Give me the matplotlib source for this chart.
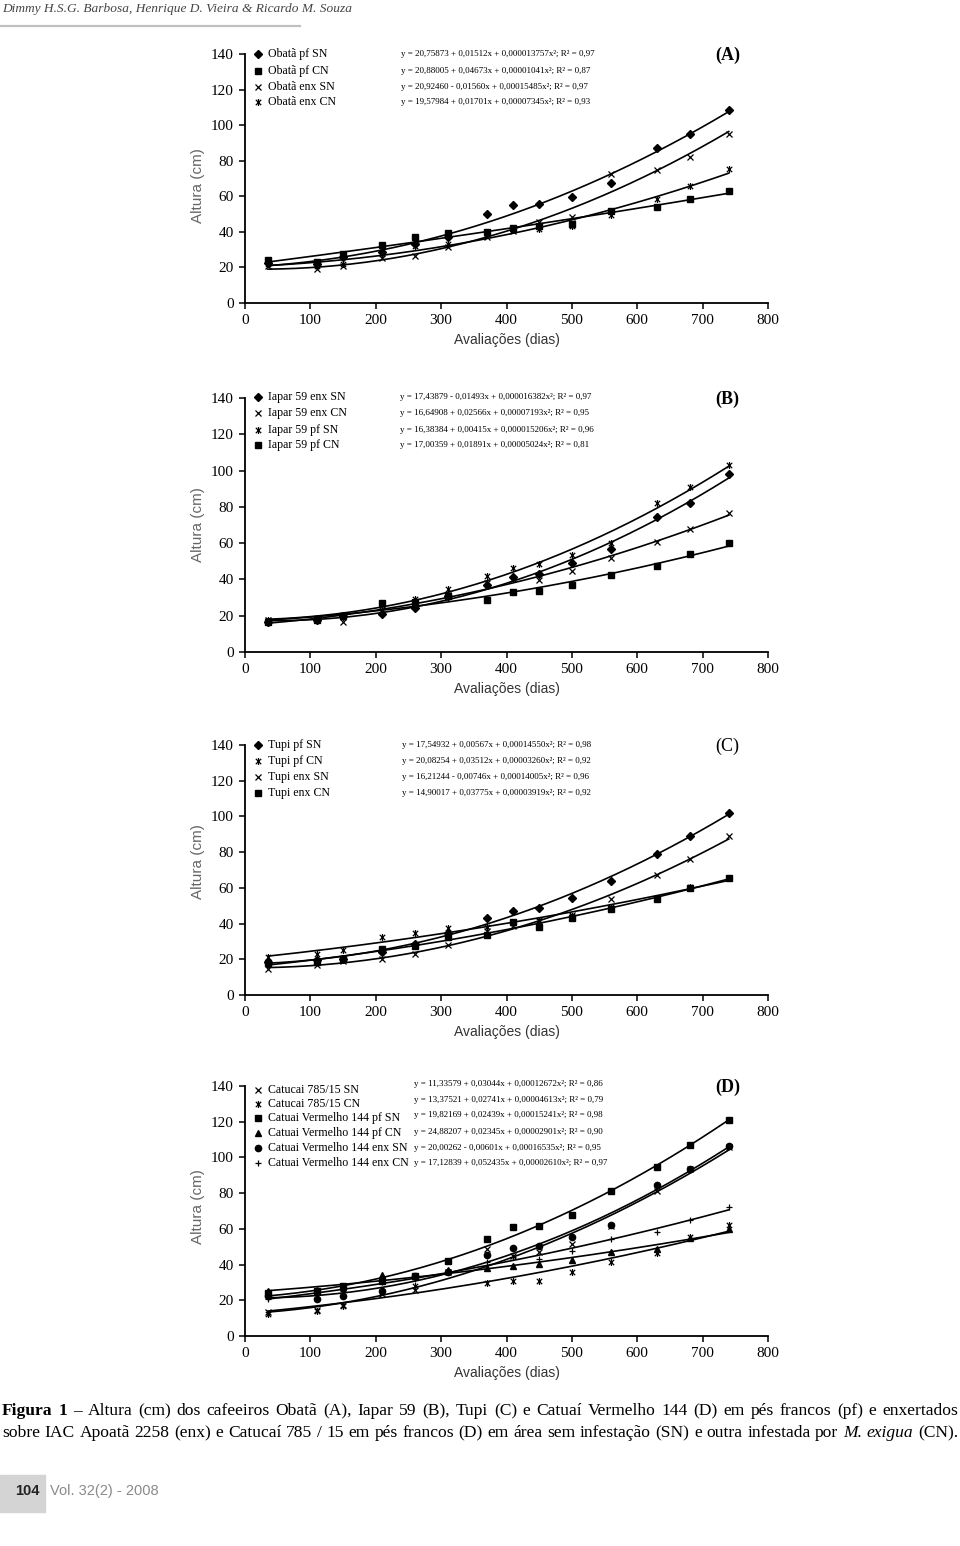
import numpy as np
import matplotlib
matplotlib.use("Agg")
from matplotlib import pyplot as plt
from matplotlib.path import Path
from matplotlib.lines import Line2D
from matplotlib.patches import Rectangle

# evaluation days (same for every panel)
dias = [35, 110, 150, 210, 260, 310, 370, 410, 450, 500, 560, 630, 680, 740]

# (A) Obata
obata_pf_sn = [22.5, 22.0, 25.7, 28.5, 33.2, 37.0, 49.9, 55.2, 55.7, 59.7, 67.5, 87.0, 95.0, 108.4]
obata_pf_cn = [24.2, 23.3, 27.6, 32.8, 37.0, 39.4, 40.2, 42.0, 43.5, 44.5, 51.6, 54.2, 58.3, 62.7]
obata_enx_sn = [20.6, 19.1, 20.6, 25.3, 26.6, 31.3, 37.0, 40.7, 45.4, 48.2, 72.6, 74.9, 82.0, 95.0]
obata_enx_cn = [22.0, 20.6, 22.0, 27.6, 32.3, 33.2, 38.8, 41.1, 41.7, 43.5, 49.7, 58.5, 65.9, 75.4]

# (B) Iapar 59
iapar_enx_sn = [16.8, 17.4, 19.6, 21.1, 24.2, 30.6, 37.0, 41.6, 43.0, 48.9, 56.6, 74.2, 81.9, 98.0]
iapar_enx_cn = [17.4, 18.1, 16.8, 23.3, 27.3, 31.5, 37.9, 40.1, 39.7, 44.9, 51.6, 60.4, 67.8, 76.4]
iapar_pf_sn = [17.8, 18.7, 20.5, 26.0, 29.1, 34.6, 41.9, 46.2, 48.5, 53.5, 59.9, 81.9, 91.0, 102.9]
iapar_pf_cn = [16.5, 17.4, 20.1, 26.9, 27.8, 30.6, 28.8, 32.8, 33.5, 37.0, 42.5, 47.6, 54.0, 59.9]

# (C) Tupi
tupi_pf_sn = [18.7, 19.6, 20.0, 24.3, 28.6, 34.6, 43.0, 47.1, 49.0, 54.2, 64.1, 78.9, 88.8, 102.2]
tupi_pf_cn = [21.5, 23.0, 25.2, 32.3, 34.6, 37.4, 37.9, 40.6, 42.0, 44.5, 49.5, 54.2, 60.4, 65.8]
tupi_enx_sn = [14.4, 16.8, 19.1, 20.0, 23.0, 28.0, 36.1, 38.7, 41.7, 44.9, 53.6, 67.3, 76.3, 88.8]
tupi_enx_cn = [17.8, 18.7, 20.0, 25.8, 27.5, 32.7, 33.6, 41.1, 38.3, 43.0, 48.0, 53.6, 59.8, 65.8]

# (D) Catucai / Catuai
catucai_sn = [13.2, 14.7, 17.4, 23.5, 25.9, 35.6, 48.7, 45.0, 46.8, 51.5, 61.8, 81.0, 93.5, 106.0]
catucai_cn = [12.3, 14.2, 16.6, 24.8, 28.2, 35.6, 29.7, 31.0, 31.0, 36.0, 41.2, 46.5, 55.2, 62.1]
catuai_pf_sn = [23.9, 25.4, 28.2, 31.0, 33.8, 41.8, 54.3, 60.8, 61.4, 67.7, 81.3, 94.8, 107.1, 121.1]
catuai_pf_cn = [25.4, 25.9, 27.2, 34.1, 33.8, 37.1, 37.9, 39.4, 40.3, 42.7, 46.8, 48.7, 54.7, 59.9]
catuai_enx_sn = [22.6, 20.7, 22.6, 25.4, 33.8, 35.6, 45.5, 49.1, 50.6, 55.6, 62.1, 84.5, 93.8, 106.5]
catuai_enx_cn = [20.7, 23.5, 25.4, 30.4, 31.9, 36.6, 41.2, 44.0, 43.1, 47.8, 54.3, 58.4, 65.1, 72.0]

# Excel "star" marker: an x with a vertical stroke
star = Path([(-1, -1), (1, 1), (-1, 1), (1, -1), (0, -1.3), (0, 1.3)],
            [Path.MOVETO, Path.LINETO] * 3)

MK = {
    'D': dict(marker='D', ms=3.8),
    's': dict(marker='s', ms=4.3),
    'x': dict(marker='x', ms=4.6, mew=0.9),
    '*': dict(marker=star, ms=5.0, mew=0.9),
    '^': dict(marker='^', ms=4.3),
    'o': dict(marker='o', ms=4.5),
    '+': dict(marker='+', ms=5.0, mew=0.9),
}

panels = [
    dict(tag='(A)', bold=True, bottom=303, top=54, ylab=186, eqx=238,
         series=[
             ('Obatã pf SN', 'D', obata_pf_sn, 'y = 20,75873 + 0,01512x + 0,000013757x²; R² = 0,97'),
             ('Obatã pf CN', 's', obata_pf_cn, 'y = 20,88005 + 0,04673x + 0,00001041x²; R² = 0,87'),
             ('Obatã enx SN', 'x', obata_enx_sn, 'y = 20,92460 - 0,01560x + 0,00015485x²; R² = 0,97'),
             ('Obatã enx CN', '*', obata_enx_cn, 'y = 19,57984 + 0,01701x + 0,00007345x²; R² = 0,93'),
         ],
         rows=[140, 130.5, 121.7, 113], eqrows=[140, 130.5, 121.7, 113]),
    dict(tag='(B)', bold=True, bottom=652, top=398, ylab=525, eqx=237,
         series=[
             ('Iapar 59 enx SN', 'D', iapar_enx_sn, 'y = 17,43879 - 0,01493x + 0,000016382x²; R² = 0,97'),
             ('Iapar 59 enx CN', 'x', iapar_enx_cn, 'y = 16,64908 + 0,02566x + 0,00007193x²; R² = 0,95'),
             ('Iapar 59 pf SN', '*', iapar_pf_sn, 'y = 16,38384 + 0,00415x + 0,000015206x²; R² = 0,96'),
             ('Iapar 59 pf CN', 's', iapar_pf_cn, 'y = 17,00359 + 0,01891x + 0,00005024x²; R² = 0,81'),
         ],
         rows=[140.5, 131.7, 122.3, 114], eqrows=[140.5, 131.7, 122.3, 114]),
    dict(tag='(C)', bold=False, bottom=995, top=745, ylab=862, eqx=240,
         series=[
             ('Tupi pf SN', 'D', tupi_pf_sn, 'y = 17,54932 + 0,00567x + 0,00014550x²; R² = 0,98'),
             ('Tupi pf CN', '*', tupi_pf_cn, 'y = 20,08254 + 0,03512x + 0,00003260x²; R² = 0,92'),
             ('Tupi enx SN', 'x', tupi_enx_sn, 'y = 16,21244 - 0,00746x + 0,00014005x²; R² = 0,96'),
             ('Tupi enx CN', 's', tupi_enx_cn, 'y = 14,90017 + 0,03775x + 0,00003919x²; R² = 0,92'),
         ],
         rows=[140, 131, 122, 113], eqrows=[140, 131, 122, 113]),
    dict(tag='(D)', bold=True, bottom=1336, top=1086, ylab=1207, eqx=258,
         series=[
             ('Catucai 785/15 SN', 'x', catucai_sn, 'y = 11,33579 + 0,03044x + 0,00012672x²; R² = 0,86'),
             ('Catucai 785/15 CN', '*', catucai_cn, 'y = 13,37521 + 0,02741x + 0,00004613x²; R² = 0,79'),
             ('Catuai Vermelho 144 pf SN', 's', catuai_pf_sn, 'y = 19,82169 + 0,02439x + 0,00015241x²; R² = 0,98'),
             ('Catuai Vermelho 144 pf CN', '^', catuai_pf_cn, 'y = 24,88207 + 0,02345x + 0,00002901x²; R² = 0,90'),
             ('Catuai Vermelho 144 enx SN', 'o', catuai_enx_sn, 'y = 20,00262 - 0,00601x + 0,00016535x²; R² = 0,95'),
             ('Catuai Vermelho 144 enx CN', '+', catuai_enx_cn, 'y = 17,12839 + 0,052435x + 0,00002610x²; R² = 0,97'),
         ],
         rows=[137.7, 129.9, 122, 113.6, 105.2, 96.8], eqrows=[141, 132, 123.7, 114.2, 105.2, 96.8]),
]

W, H = 960, 1546
SERIF = 'Liberation Serif'
SANS = 'Liberation Sans'
fig = plt.figure(figsize=(W / 100, H / 100), dpi=100)

xx = np.linspace(min(dias), max(dias), 200)
for p in panels:
    ax = fig.add_axes([245 / W, 1 - p['bottom'] / H, 523 / W, (p['bottom'] - p['top']) / H])
    for name, mk, vals, eq in p['series']:
        coef = np.polyfit(dias, vals, 2)
        ax.plot(xx, np.polyval(coef, xx), color='black', lw=1.2, zorder=2)
        ax.plot(dias, vals, ls='none', color='black', mfc='black', mec='black', zorder=3, **MK[mk])
    for (name, mk, vals, eq), ry, ey in zip(p['series'], p['rows'], p['eqrows']):
        ax.plot([20], [ry], ls='none', color='black', clip_on=False, **MK[mk])
        ax.text(35, ry, name, fontsize=8.6, family=SERIF, va='center', ha='left')
        ax.text(p['eqx'], ey, eq, fontsize=6.5, family=SERIF, va='center', ha='left')
    ax.text(738, 139, p['tag'], fontsize=13, family=SERIF, va='center', ha='center',
            weight='bold' if p['bold'] else 'normal')
    ax.set_xlim(0, 800)
    ax.set_ylim(0, 140)
    ax.set_xticks(range(0, 801, 100))
    ax.set_yticks(range(0, 141, 20))
    for s in ['top', 'right']:
        ax.spines[s].set_visible(False)
    for s in ['left', 'bottom']:
        ax.spines[s].set_linewidth(1.3)
    ax.tick_params(direction='out', length=4, width=1.1, labelsize=11, pad=4)
    for lab in ax.get_xticklabels() + ax.get_yticklabels():
        lab.set_family(SERIF)
    ax.set_xlabel('Avaliações (dias)', family=SANS, fontsize=10, color='#333333', labelpad=4)
    ax.set_ylabel('Altura (cm)', family=SANS, fontsize=11, color='#666666')
    ax.yaxis.set_label_coords(-40 / 523, (p['bottom'] - p['ylab']) / (p['bottom'] - p['top']))

# running header
fig.text(2 / W, 1 - 9 / H, 'Dimmy H.S.G. Barbosa, Henrique D. Vieira & Ricardo M. Souza',
         family=SERIF, style='italic', fontsize=9.6, color='#444444', va='center')
fig.add_artist(Line2D([0, 300 / W], [1 - 26 / H] * 2, color='#c0c0c0', lw=1.6,
                      transform=fig.transFigure))

# caption, justified to the full width
renderer = fig.canvas.get_renderer()


def justified(words, ypx, x0=2, x1=958, size=12.6):
    texts = []
    for w, st in words:
        kw = dict(family=SERIF, fontsize=size, va='center', ha='left', color='black')
        if st == 'b':
            kw['weight'] = 'bold'
        if st == 'i':
            kw['style'] = 'italic'
        texts.append(fig.text(0, 1 - ypx / H, w, **kw))
    widths = [t.get_window_extent(renderer).width for t in texts]
    gap = (x1 - x0 - sum(widths)) / (len(texts) - 1)
    x = x0
    for t, wd in zip(texts, widths):
        t.set_x(x / W)
        x += wd + gap


line1 = [('Figura', 'b'), ('1', 'b')] + [(w, '') for w in
         '– Altura (cm) dos cafeeiros Obatã (A), Iapar 59 (B), Tupi (C) e Catuaí Vermelho 144 (D) em pés francos (pf) e enxertados'.split()]
line2 = [(w, '') for w in
         'sobre IAC Apoatã 2258 (enx) e Catucaí 785 / 15 em pés francos (D) em área sem infestação (SN) e outra infestada por'.split()]
line2 += [('M.', 'i'), ('exigua', 'i'), ('(CN).', '')]
justified(line1, 1411)
justified(line2, 1433)

# footer
fig.add_artist(Rectangle((0, 1 - 1512 / H), 45 / W, 37 / H, color='#d4d4d4',
                         transform=fig.transFigure, zorder=0))
fig.text(27 / W, 1 - 1491 / H, '104', family=SANS, weight='bold', fontsize=10.5,
         color='#222222', ha='center', va='center')
fig.text(50 / W, 1 - 1491 / H, 'Vol. 32(2) - 2008', family=SANS, fontsize=10.5,
         color='#8a8a8a', ha='left', va='center')

fig.savefig('out.png', dpi=100)
